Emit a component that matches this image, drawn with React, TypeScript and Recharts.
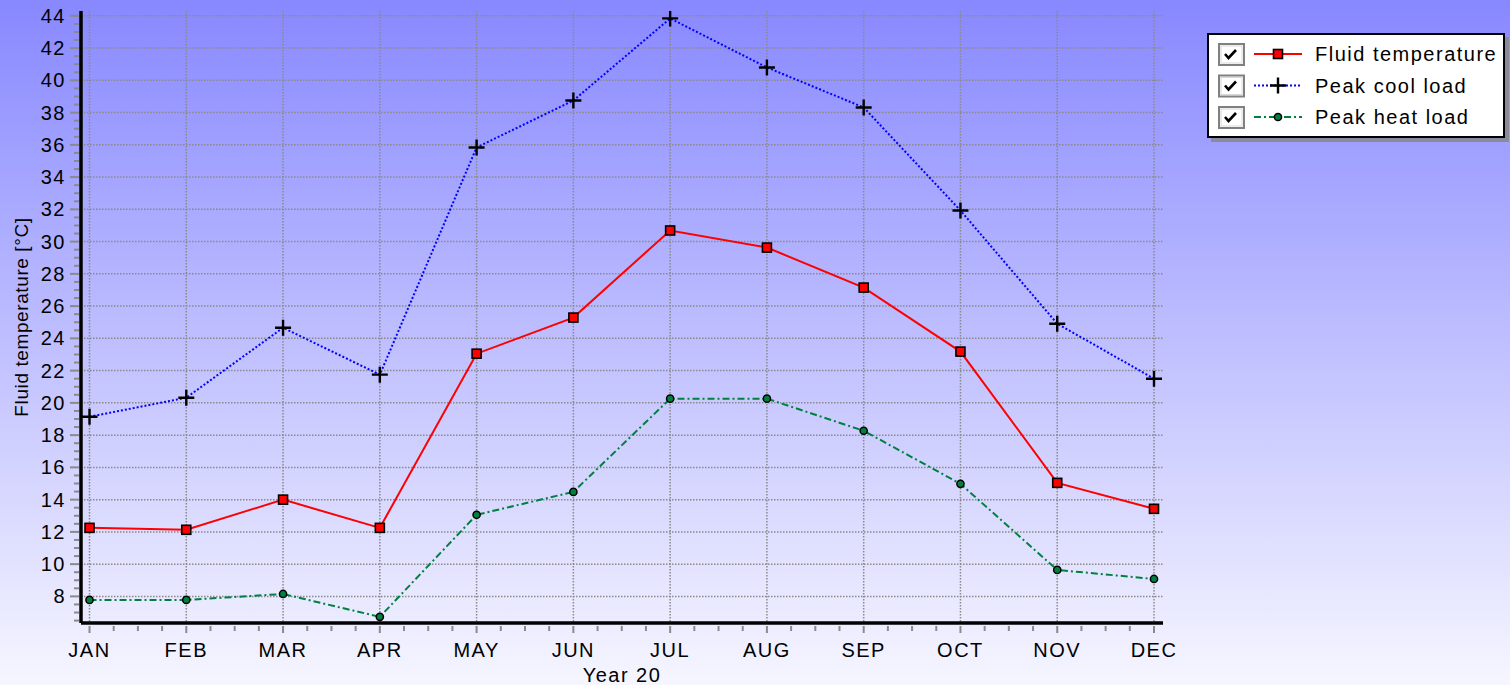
import React from 'react';
import { LineChart, Line, XAxis, YAxis, CartesianGrid } from 'recharts';

// Monthly values for year 20
const months = ['JAN', 'FEB', 'MAR', 'APR', 'MAY', 'JUN', 'JUL', 'AUG', 'SEP', 'OCT', 'NOV', 'DEC'];
const fluidTemperature = [12.25, 12.13, 14.0, 12.25, 23.05, 25.29, 30.69, 29.63, 27.15, 23.18, 15.04, 13.43];
const peakCoolLoad = [19.14, 20.32, 24.66, 21.75, 35.84, 38.75, 43.84, 40.8, 38.32, 31.93, 24.91, 21.5];
const peakHeatLoad = [7.78, 7.78, 8.15, 6.73, 13.06, 14.48, 20.26, 20.26, 18.27, 14.98, 9.64, 9.08];
const yMajorTicks = [8, 10, 12, 14, 16, 18, 20, 22, 24, 26, 28, 30, 32, 34, 36, 38, 40, 42, 44];

const seriesNames = ['Fluid temperature', 'Peak cool load', 'Peak heat load'];

const FONT = "'Liberation Sans', Arial, sans-serif";
const TICK_GRAY = '#8a8a8a';

const X_DOMAIN: [number, number] = [-0.088, 11.093];
const Y_DOMAIN: [number, number] = [6.35, 44.3];

const data = months.map((m, i) => ({
  x: i,
  month: m,
  fluid: fluidTemperature[i],
  cool: peakCoolLoad[i],
  heat: peakHeatLoad[i],
}));

// minor ticks: quarter months on x, half degrees on y
const xTicks: number[] = [];
for (let i = 0; i <= 44; i++) xTicks.push(i / 4);
const yTicks: number[] = [];
for (let v = 6.5; v <= 44.001; v += 0.5) yTicks.push(Math.round(v * 2) / 2);

const XTick = (props: any) => {
  const { x, y, payload } = props;
  const v = payload.value;
  const major = Number.isInteger(v);
  return (
    <g>
      <line x1={x} x2={x} y1={y + 3} y2={y + (major ? 10 : 8)} stroke={TICK_GRAY} strokeWidth={2} />
      {major && (
        <text x={x} y={y + 34} textAnchor="middle" fontFamily={FONT} fontSize={20} letterSpacing={1.5} fill="#000">
          {months[v]}
        </text>
      )}
    </g>
  );
};

const YTick = (props: any) => {
  const { x, y, payload } = props;
  const v = payload.value;
  const major = v % 2 === 0;
  return (
    <g>
      <line x1={x - (major ? 11 : 7)} x2={x - 2} y1={y} y2={y} stroke={TICK_GRAY} strokeWidth={2} />
      {major && (
        <text x={x - 15} y={y} dy={7} textAnchor="end" fontFamily={FONT} fontSize={20} letterSpacing={1.5} fill="#000">
          {v}
        </text>
      )}
    </g>
  );
};

const SquareDot = (props: any) => {
  const { cx, cy, index } = props;
  return <rect key={`sq-${index}`} x={cx - 4.5} y={cy - 4.5} width={9} height={9} fill="#ff0000" stroke="#000" strokeWidth={1.6} />;
};

const PlusDot = (props: any) => {
  const { cx, cy, index } = props;
  return (
    <path
      key={`pl-${index}`}
      d={`M${cx - 8},${cy}H${cx + 8}M${cx},${cy - 8}V${cx === undefined ? 0 : cy + 8}`}
      stroke="#000"
      strokeWidth={2.4}
      fill="none"
    />
  );
};

const CircleDot = (props: any) => {
  const { cx, cy, index } = props;
  return <circle key={`ci-${index}`} cx={cx} cy={cy} r={3.6} fill="#008040" stroke="#000" strokeWidth={1.5} />;
};

const YLabel = (props: any) => {
  const vb = props.viewBox || { x: 0, y: 11, height: 612 };
  const cx = vb.x + 28;
  const cy = vb.y + vb.height / 2;
  return (
    <text
      x={cx}
      y={cy}
      transform={`rotate(-90, ${cx}, ${cy})`}
      textAnchor="middle"
      fontFamily={FONT}
      fontSize={19}
      letterSpacing={0.6}
      fill="#000"
    >
      Fluid temperature [°C]
    </text>
  );
};

const CheckBox = ({ y }: { y: number }) => (
  <g>
    <rect x={10} y={y - 10} width={25} height={21} fill="#fff" stroke="#808080" strokeWidth={2} />
    <rect x={12} y={y - 8} width={21} height={17} fill="none" stroke="#d8d8d8" strokeWidth={1} />
    <path d={`M16,${y}L19.5,${y + 4}L27,${y - 4}`} stroke="#000" strokeWidth={2.6} fill="none" />
  </g>
);

const LegendBox = () => {
  const rows = [19, 50.5, 82];
  return (
    <div
      style={{
        position: 'absolute',
        left: 1207,
        top: 33,
        width: 294,
        height: 101,
        background: '#fff',
        border: '2px solid #000',
        boxShadow: '4px 4px 0 #8a8a9a',
      }}
    >
      <svg width={294} height={101} style={{ display: 'block' }}>
        {rows.map((ry, i) => (
          <g key={seriesNames[i]}>
            <CheckBox y={ry} />
            {i === 0 && (
              <g>
                <line x1={45} x2={93} y1={ry} y2={ry} stroke="#ff0000" strokeWidth={2} />
                <rect x={64.5} y={ry - 4.5} width={9} height={9} fill="#ff0000" stroke="#000" strokeWidth={1.6} />
              </g>
            )}
            {i === 1 && (
              <g>
                <line x1={45} x2={93} y1={ry} y2={ry} stroke="#0000ff" strokeWidth={2} strokeDasharray="2 2" />
                <path d={`M61,${ry}H77M69,${ry - 8}V${ry + 8}`} stroke="#000" strokeWidth={2.4} />
              </g>
            )}
            {i === 2 && (
              <g>
                <line x1={45} x2={93} y1={ry} y2={ry} stroke="#008040" strokeWidth={2} strokeDasharray="7 3 2 3" />
                <circle cx={69} cy={ry} r={3.6} fill="#008040" stroke="#000" strokeWidth={1.5} />
              </g>
            )}
            <text x={106} y={ry + 7} fontFamily={FONT} fontSize={20} letterSpacing={1.5} fill="#000">
              {seriesNames[i]}
            </text>
          </g>
        ))}
      </svg>
    </div>
  );
};

export default function App() {
  return (
    <div
      style={{
        position: 'absolute',
        left: 0,
        top: 0,
        width: 1510,
        height: 685,
        overflow: 'hidden',
        background: 'linear-gradient(to bottom, rgb(136,136,255), rgb(246,246,255))',
      }}
    >
      <LineChart width={1510} height={685} data={data} margin={{ top: 11, right: 347, bottom: 0, left: 0 }}>
        <CartesianGrid
          stroke="#8a8a8a"
          strokeWidth={1.5}
          strokeDasharray="1.5 1.5"
          verticalValues={months.map((_, i) => i)}
          horizontalValues={yMajorTicks}
        />
        <XAxis
          dataKey="x"
          type="number"
          domain={X_DOMAIN}
          ticks={xTicks}
          interval={0}
          height={62}
          tickSize={0}
          tickMargin={0}
          tickLine={false}
          tick={<XTick />}
          axisLine={{ stroke: '#000', strokeWidth: 3.5 }}
          allowDataOverflow
          label={{ value: 'Year 20', position: 'insideBottom', offset: 3, fontFamily: FONT, fontSize: 20, fill: '#000', letterSpacing: 1.5 } as any}
        />
        <XAxis
          xAxisId="top"
          orientation="top"
          type="number"
          domain={X_DOMAIN}
          height={0}
          tick={false}
          tickLine={false}
          axisLine={{ stroke: '#000', strokeWidth: 2 }}
          allowDataOverflow
        />
        <YAxis
          type="number"
          domain={Y_DOMAIN}
          ticks={yTicks}
          interval={0}
          width={81}
          tickSize={0}
          tickMargin={0}
          tickLine={false}
          tick={<YTick />}
          axisLine={{ stroke: '#000', strokeWidth: 3.5 }}
          allowDataOverflow
          label={{ content: <YLabel /> } as any}
        />
        <YAxis
          yAxisId="right"
          orientation="right"
          type="number"
          domain={Y_DOMAIN}
          width={0}
          tick={false}
          tickLine={false}
          axisLine={{ stroke: '#000', strokeWidth: 2 }}
          allowDataOverflow
        />
        <Line
          dataKey="heat"
          name={seriesNames[2]}
          stroke="#008040"
          strokeWidth={2}
          strokeDasharray="7 3 2 3"
          dot={<CircleDot />}
          activeDot={false}
          isAnimationActive={false}
        />
        <Line
          dataKey="cool"
          name={seriesNames[1]}
          stroke="#0000ff"
          strokeWidth={2}
          strokeDasharray="2 2"
          dot={<PlusDot />}
          activeDot={false}
          isAnimationActive={false}
        />
        <Line
          dataKey="fluid"
          name={seriesNames[0]}
          stroke="#ff0000"
          strokeWidth={2}
          dot={<SquareDot />}
          activeDot={false}
          isAnimationActive={false}
        />
      </LineChart>
      <LegendBox />
    </div>
  );
}
